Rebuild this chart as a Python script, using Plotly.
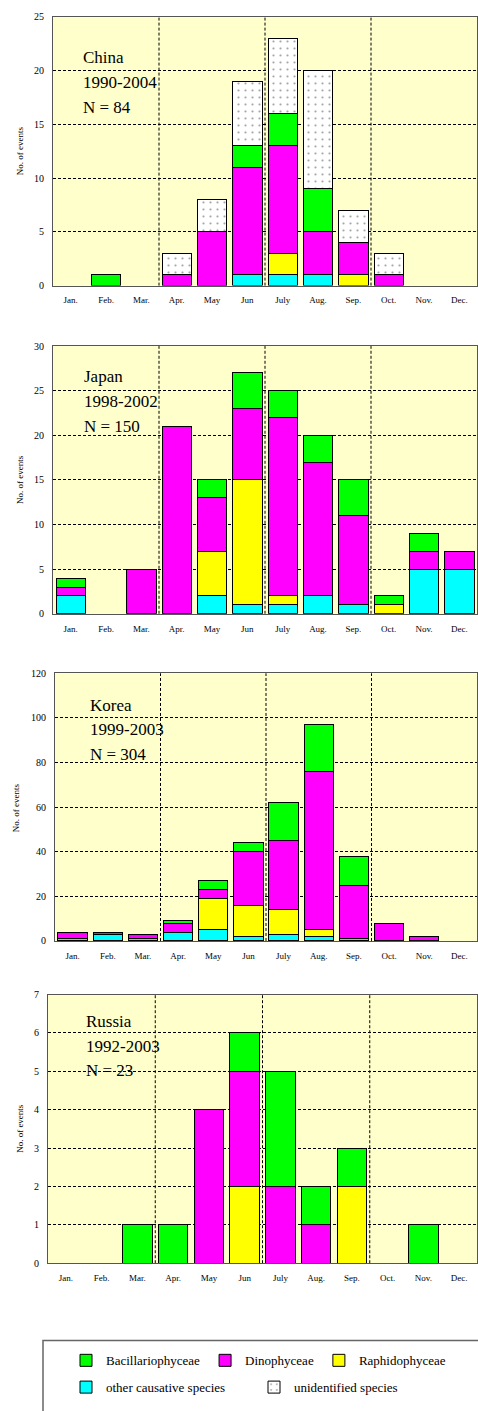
import plotly.graph_objects as go

W, H = 478, 1411
FONT = "Liberation Serif, Times New Roman, serif"

MONTHS = ["Jan.", "Feb.", "Mar.", "Apr.", "May", "Jun", "July", "Aug.", "Sep.", "Oct.", "Nov.", "Dec."]
CATEGORIES = ["other causative species", "Raphidophyceae", "Dinophyceae", "Bacillariophyceae", "unidentified species"]

# China 1990-2004
CHINA_OTHER = [0, 0, 0, 0, 0, 1, 1, 1, 0, 0, 0, 0]
CHINA_RAPHI = [0, 0, 0, 0, 0, 0, 2, 0, 1, 0, 0, 0]
CHINA_DINO = [0, 0, 0, 1, 5, 10, 10, 4, 3, 1, 0, 0]
CHINA_BACI = [0, 1, 0, 0, 0, 2, 3, 4, 0, 0, 0, 0]
CHINA_UNID = [0, 0, 0, 2, 3, 6, 7, 11, 3, 2, 0, 0]

# Japan 1998-2002
JAPAN_OTHER = [2, 0, 0, 0, 2, 1, 1, 2, 1, 0, 5, 5]
JAPAN_RAPHI = [0, 0, 0, 0, 5, 14, 1, 0, 0, 1, 0, 0]
JAPAN_DINO = [1, 0, 5, 21, 6, 8, 20, 15, 10, 0, 2, 2]
JAPAN_BACI = [1, 0, 0, 0, 2, 4, 3, 3, 4, 1, 2, 0]
JAPAN_UNID = [0, 0, 0, 0, 0, 0, 0, 0, 0, 0, 0, 0]

# Korea 1999-2003
KOREA_OTHER = [1, 3, 1, 4, 5, 2, 3, 2, 1, 0, 0, 0]
KOREA_RAPHI = [0, 0, 0, 0, 14, 14, 11, 3, 0, 0, 0, 0]
KOREA_DINO = [3, 1, 2, 4, 4, 24, 31, 71, 24, 8, 2, 0]
KOREA_BACI = [0, 0, 0, 1, 4, 4, 17, 21, 13, 0, 0, 0]
KOREA_UNID = [0, 0, 0, 0, 0, 0, 0, 0, 0, 0, 0, 0]

# Russia 1992-2003
RUSSIA_OTHER = [0, 0, 0, 0, 0, 0, 0, 0, 0, 0, 0, 0]
RUSSIA_RAPHI = [0, 0, 0, 0, 0, 2, 0, 0, 2, 0, 0, 0]
RUSSIA_DINO = [0, 0, 0, 0, 4, 3, 2, 1, 0, 0, 0, 0]
RUSSIA_BACI = [0, 0, 1, 1, 0, 1, 3, 1, 1, 0, 1, 0]
RUSSIA_UNID = [0, 0, 0, 0, 0, 0, 0, 0, 0, 0, 0, 0]

COUNTRIES = ["China", "Japan", "Korea", "Russia"]
PERIODS = ["1990-2004", "1998-2002", "1999-2003", "1992-2003"]
TOTALS = ["N = 84", "N = 150", "N = 304", "N = 23"]
YMAX = [25, 30, 120, 7]
YSTEP = [5, 5, 20, 1]

SERIES = [
    [CHINA_OTHER, CHINA_RAPHI, CHINA_DINO, CHINA_BACI, CHINA_UNID],
    [JAPAN_OTHER, JAPAN_RAPHI, JAPAN_DINO, JAPAN_BACI, JAPAN_UNID],
    [KOREA_OTHER, KOREA_RAPHI, KOREA_DINO, KOREA_BACI, KOREA_UNID],
    [RUSSIA_OTHER, RUSSIA_RAPHI, RUSSIA_DINO, RUSSIA_BACI, RUSSIA_UNID],
]

COLORS = ["#00FFFF", "#FFFF00", "#FF00FF", "#00FF00", "#FFFFFF"]
RANKS = [4, 3, 2, 1, 5]
LEGENDS = ["legend2", "legend", "legend", "legend", "legend2"]

# panel pixel boxes: left, top, bottom
PANELS = [(53, 11, 282), (53, 343, 613), (55, 673, 943), (48, 997, 1268)]
TEXT_POS = [(81, [52, 77, 102]), (82, [374, 399, 424]), (88, [706, 730, 755]), (84, [1024, 1049, 1074])]
YTITLE_X = [20, 20, 16, 20]


def px(x):
    return x / W


def py(y):
    return 1 - y / H


fig = go.Figure()
annotations = []
shapes = []

for i, country in enumerate(COUNTRIES):
    xa = "x" if i == 0 else f"x{i+1}"
    ya = "y" if i == 0 else f"y{i+1}"
    for j, cat in enumerate(CATEGORIES):
        marker = dict(color=COLORS[j], line=dict(color="#000000", width=1))
        if j == 4:
            marker["pattern"] = dict(shape=".", fgcolor="#444444", bgcolor="#FFFFFF", size=7, solidity=0.08)
        vals = [v if v else None for v in SERIES[i][j]]
        fig.add_trace(go.Bar(
            x=MONTHS, y=vals, name=cat, marker=marker,
            xaxis=xa, yaxis=ya, showlegend=(i == 0), legend=LEGENDS[j],
            legendrank=RANKS[j], width=0.83,
        ))
    left, top, bottom = PANELS[i]
    xkey = "xaxis" if i == 0 else f"xaxis{i+1}"
    ykey = "yaxis" if i == 0 else f"yaxis{i+1}"
    fig.update_layout(**{
        xkey: dict(
            domain=[px(left), px(477)], anchor=ya, type="category",
            categoryorder="array", categoryarray=MONTHS, range=[-0.5, 11.5],
            showgrid=False, showline=True, mirror=True, linecolor="#555555", linewidth=1,
            ticks="outside", ticklen=6, tickcolor="rgba(0,0,0,0)",
            tickfont=dict(family=FONT, size=9, color="#000000"), zeroline=False,
        ),
        ykey: dict(
            domain=[py(bottom), py(top)], anchor=xa, range=[0, YMAX[i]], dtick=YSTEP[i],
            showgrid=True, gridcolor="#000000", griddash="3px,2px", gridwidth=1,
            showline=True, mirror=True, linecolor="#555555", linewidth=1,
            ticks="outside", ticklen=6, tickcolor="rgba(0,0,0,0)",
            tickfont=dict(family=FONT, size=10, color="#000000"), zeroline=False,
        ),
    })
    for xv in [2.5, 5.5, 8.5]:
        shapes.append(dict(type="line", xref=xa, yref=f"{ya} domain", x0=xv, x1=xv, y0=0, y1=1,
                           line=dict(color="#000000", width=1, dash="3px,2px"), layer="below"))
    tx, tys = TEXT_POS[i]
    for txt, ty in zip([country, PERIODS[i], TOTALS[i]], tys):
        annotations.append(dict(text=txt, x=px(tx), y=py(ty), xref="paper", yref="paper",
                                xanchor="left", yanchor="middle", showarrow=False,
                                font=dict(family=FONT, size=17, color="#000000")))
    annotations.append(dict(text="No. of events", x=px(YTITLE_X[i]), y=py((top + bottom) / 2),
                            xref="paper", yref="paper", xanchor="center", yanchor="middle",
                            textangle=-90, showarrow=False,
                            font=dict(family=FONT, size=9, color="#000000")))

# legend box
shapes.append(dict(type="rect", xref="paper", yref="paper", x0=px(43), x1=1.02, y0=-0.02, y1=py(1346),
                   line=dict(color="#666666", width=1.5), fillcolor="#FFFFFF", layer="below"))

fig.update_layout(
    width=W, height=H, margin=dict(l=0, r=0, t=0, b=0),
    paper_bgcolor="#FFFFFF", plot_bgcolor="#FFFFCC",
    barmode="stack", bargap=0.17,
    font=dict(family=FONT, color="#000000"),
    shapes=shapes, annotations=annotations,
    legend=dict(orientation="h", x=px(66), y=py(1366), xanchor="left", yanchor="middle",
                bgcolor="rgba(0,0,0,0)", font=dict(family=FONT, size=13, color="#000000"),
                traceorder="normal"),
    legend2=dict(orientation="h", x=px(66), y=py(1393), xanchor="left", yanchor="middle",
                 bgcolor="rgba(0,0,0,0)", font=dict(family=FONT, size=13, color="#000000"),
                 traceorder="normal", entrywidth=143),
)

fig.write_html("out.html", config={"displayModeBar": False},
               post_script="document.body.style.margin='0';document.body.style.overflow='hidden';")
